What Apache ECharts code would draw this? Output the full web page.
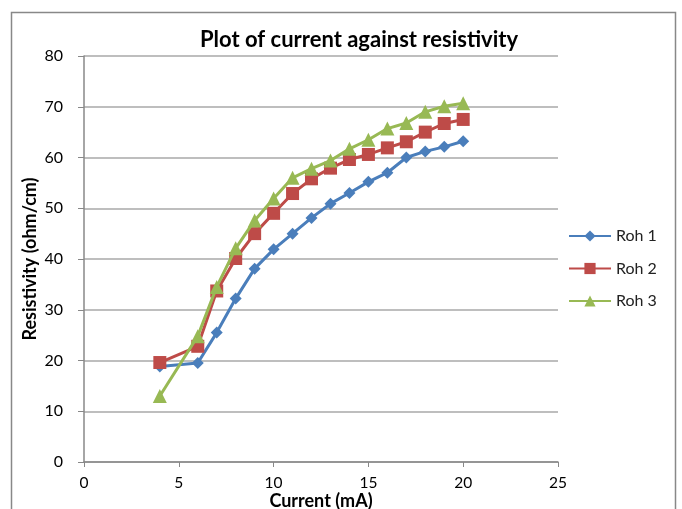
<!DOCTYPE html>
<html><head><meta charset="utf-8">
<script src="https://cdn.jsdelivr.net/npm/echarts@6/dist/echarts.min.js"></script>
<style>html,body{margin:0;padding:0;background:#fff}#c{width:682px;height:509px}</style>
</head><body><div id="c"></div>
<script>
var current = [4, 6, 7, 8, 9, 10, 11, 12, 13, 14, 15, 16, 17, 18, 19, 20];
var roh1 = [18.8, 19.5, 25.5, 32.2, 38.1, 41.9, 45.0, 48.1, 50.9, 53.0, 55.2, 57.0, 60.0, 61.2, 62.1, 63.2];
var roh2 = [19.6, 22.8, 33.7, 40.1, 45.0, 49.0, 52.9, 55.8, 57.9, 59.6, 60.6, 61.9, 63.1, 65.0, 66.7, 67.5];
var roh3 = [13.0, 24.8, 34.5, 42.1, 47.6, 51.9, 56.0, 57.8, 59.4, 61.7, 63.5, 65.7, 66.8, 69.0, 70.1, 70.7];
var seriesNames = ['Roh 1', 'Roh 2', 'Roh 3'];
var colors = ['#4A7EBB', '#BE4B48', '#98B954'];
var symbols = ['diamond', 'rect', 'triangle'];
var symSizes = [12, 13, 14];
var vals = [roh1, roh2, roh3];
function pairs(ys){ return current.map(function(x,i){ return [x, ys[i]]; }); }
var font = 'Lato, "Open Sans", sans-serif';
var chart = echarts.init(document.getElementById('c'));
chart.setOption({
  animation: false,
  backgroundColor: '#fff',
  textStyle: { fontFamily: font },
  title: { text: 'Plot of current against resistivity', left: 354, top: 24, textAlign: 'center',
    textStyle: { fontFamily: font, fontWeight: 'bold', fontSize: 22, color: '#000' } },
  graphic: [{ type: 'rect', shape: { x: 11.5, y: 12.5, width: 664, height: 520 },
    style: { fill: 'none', stroke: '#888', lineWidth: 1.5 }, z: -1 }],
  legend: { orient: 'vertical', left: 563, top: 223, itemGap: 16.5, itemWidth: 42, itemHeight: 14,
    textStyle: { fontFamily: font, fontSize: 16, color: '#222' },
    data: seriesNames },
  grid: { left: 84, right: 124, top: 56, bottom: 47, containLabel: false, outerBoundsMode: 'none' },
  xAxis: { type: 'value', min: 0, max: 25, interval: 5,
    name: 'Current (mA)', nameLocation: 'middle', nameGap: 30, nameMoveOverlap: false,
    nameTextStyle: { fontFamily: font, fontWeight: 'bold', fontSize: 18, color: '#000' },
    axisLine: { lineStyle: { color: '#888', width: 1.5 } },
    axisTick: { show: true, length: 5, lineStyle: { color: '#888' } },
    axisLabel: { fontFamily: font, fontSize: 15.5, color: '#000', margin: 13 },
    splitLine: { show: false } },
  yAxis: { type: 'value', min: 0, max: 80, interval: 10,
    name: 'Resistivity (ohm/cm)', nameLocation: 'middle', nameGap: 45, nameRotate: 90, nameMoveOverlap: false,
    nameTextStyle: { fontFamily: font, fontWeight: 'bold', fontSize: 18, color: '#000' },
    axisLine: { show: true, lineStyle: { color: '#888', width: 1.5 } },
    axisTick: { show: true, length: 6, lineStyle: { color: '#888' } },
    axisLabel: { fontFamily: font, fontSize: 16, color: '#000', margin: 21 },
    splitLine: { lineStyle: { color: '#a8a8a8', width: 1.5 } } },
  series: seriesNames.map(function(n,i){
    return { name: n, type: 'line', data: pairs(vals[i]), symbol: symbols[i], symbolSize: symSizes[i],
      showAllSymbol: true, lineStyle: { color: colors[i], width: 3 },
      itemStyle: { color: colors[i] }, z: 2 + i };
  })
});
</script></body></html>
